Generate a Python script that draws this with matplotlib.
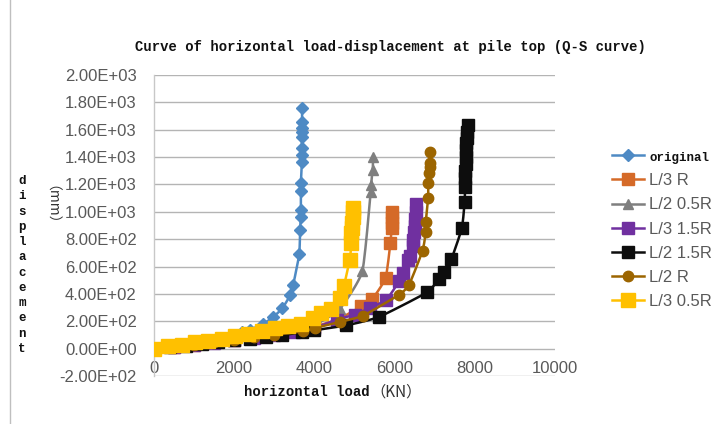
import numpy as np
import matplotlib
matplotlib.use("Agg")
import matplotlib.pyplot as plt
from matplotlib.font_manager import FontProperties

# ---------------- data ----------------
series_names = ["original", "L/3 R", "L/2 0.5R", "L/3 1.5R", "L/2 1.5R", "L/2 R", "L/3 0.5R"]

orig_x = [0, 330, 660, 1000, 1330, 1660, 2000, 2200, 2400, 2730, 2980, 3210, 3410, 3480, 3630, 3650, 3670, 3670, 3670, 3670, 3700, 3700, 3700, 3690, 3700, 3700, 3700, 3700]
orig_y = [0, 15, 30, 45, 62, 80, 100, 118, 138, 180, 231, 295, 394, 467, 690, 865, 965, 1015, 1150, 1210, 1365, 1415, 1465, 1550, 1580, 1610, 1660, 1757]

l3r_x = [0, 500, 1000, 1500, 2000, 2500, 3000, 3500, 4000, 4600, 5180, 5450, 5780, 5900, 5930, 5930, 5930, 5930]
l3r_y = [0, 14, 30, 47, 66, 85, 106, 130, 160, 215, 309, 363, 516, 771, 880, 920, 960, 1000]

l205r_x = [0, 500, 1000, 1500, 2000, 2500, 3000, 3500, 4000, 4640, 5200, 5410, 5420, 5460, 5470]
l205r_y = [0, 15, 32, 50, 70, 90, 110, 135, 170, 290, 564, 1148, 1197, 1307, 1404]

l315r_x = [0, 500, 1000, 1500, 2000, 2500, 3000, 3500, 4000, 4560, 5010, 5390, 5800, 6115, 6215, 6340, 6380, 6460, 6465, 6500, 6510, 6520, 6530, 6530]
l315r_y = [0, 13, 28, 44, 62, 80, 100, 122, 150, 212, 248, 297, 358, 491, 553, 650, 674, 747, 796, 850, 900, 950, 1000, 1060]

l215r_x = [0, 400, 800, 1200, 1600, 2000, 2400, 2800, 3200, 3700, 4000, 4800, 5610, 6810, 7110, 7230, 7420, 7680, 7750, 7760, 7765, 7770, 7775, 7780, 7785, 7790, 7800, 7810, 7830]
l215r_y = [0, 10, 22, 34, 47, 60, 72, 85, 98, 120, 134, 170, 231, 411, 511, 560, 655, 881, 1075, 1185, 1250, 1300, 1350, 1400, 1450, 1500, 1540, 1586, 1635]

l2r_x = [0, 500, 1000, 1500, 2000, 2500, 3000, 3730, 4020, 4640, 5220, 6115, 6365, 6700, 6780, 6780, 6840, 6840, 6860, 6880, 6880, 6880]
l2r_y = [0, 13, 28, 45, 63, 82, 100, 126, 151, 195, 241, 394, 467, 715, 849, 922, 1100, 1214, 1282, 1331, 1355, 1440]

l305r_x = [0, 368, 700, 1032, 1364, 1696, 2027, 2359, 2690, 3022, 3353, 3686, 3975, 4183, 4432, 4640, 4740, 4888, 4930, 4930, 4940, 4950, 4960, 4970, 4970]
l305r_y = [0, 17, 29, 46, 58, 73, 90, 109, 126, 151, 163, 182, 224, 260, 290, 370, 455, 650, 771, 844, 880, 920, 960, 1000, 1030]

xs = [orig_x, l3r_x, l205r_x, l315r_x, l215r_x, l2r_x, l305r_x]
ys = [orig_y, l3r_y, l205r_y, l315r_y, l215r_y, l2r_y, l305r_y]

colors = ["#4E8AC4", "#D56A28", "#7F7F7F", "#7030A0", "#0D0D0D", "#9C6500", "#FFC000"]
markers = ["D", "s", "^", "s", "s", "o", "s"]
msizes = [6, 8, 7.5, 8, 8, 7.5, 9.5]

y_ticks = np.arange(-200, 2001, 200)
x_ticks = [0, 2000, 4000, 6000, 8000, 10000]


def smooth(x, y, n=12):
    x = np.asarray(x, float)
    y = np.asarray(y, float)
    if len(x) < 3:
        return x, y
    px = np.concatenate([[x[0]], x, [x[-1]]])
    py = np.concatenate([[y[0]], y, [y[-1]]])
    ox, oy = [], []
    t = np.linspace(0, 1, n, endpoint=False)
    h00 = 2 * t**3 - 3 * t**2 + 1
    h10 = t**3 - 2 * t**2 + t
    h01 = -2 * t**3 + 3 * t**2
    h11 = t**3 - t**2
    for i in range(1, len(px) - 2):
        for arr_o, a in ((ox, px), (oy, py)):
            m1 = 0.25 * (a[i + 1] - a[i - 1])
            m2 = 0.25 * (a[i + 2] - a[i])
            arr_o.extend(h00 * a[i] + h10 * m1 + h01 * a[i + 1] + h11 * m2)
    ox.append(x[-1])
    oy.append(y[-1])
    return np.array(ox), np.array(oy)


fig = plt.figure(figsize=(7.14, 4.24), dpi=100)
ax = fig.add_axes([153.5 / 714, 1 - 376 / 424, (555 - 153.5) / 714, (376 - 75) / 424])

handles = []
for name, x, y, c, m, ms in zip(series_names, xs, ys, colors, markers, msizes):
    sx, sy = smooth(x, y)
    ax.plot(sx, sy, color=c, lw=1.8, zorder=3, solid_capstyle="round")
    ax.plot(x, y, linestyle="none", marker=m, ms=ms, color=c, mec=c, zorder=3)
    h, = ax.plot([], [], color=c, lw=1.8, marker=m, ms=ms, mec=c, label=name)
    handles.append(h)

ax.set_xlim(0, 10000)
ax.set_ylim(-200, 2000)
ax.set_yticks(y_ticks)
ax.set_yticklabels(["%.2E" % v for v in y_ticks])
ax.set_xticks(x_ticks)
ax.set_xticklabels([str(v) for v in x_ticks])
ax.yaxis.grid(True, color="#B4B4B4", lw=1.0)
ax.set_axisbelow(True)
for s in ["top", "right", "bottom"]:
    ax.spines[s].set_visible(False)
ax.spines["left"].set_color("#C8C8C8")
ax.spines["left"].set_linewidth(1.0)
ax.spines["bottom"].set_position(("data", 0))
ax.tick_params(axis="both", length=0, labelsize=12, labelcolor="#595959")
ax.tick_params(axis="x", pad=9)
ax.tick_params(axis="y", pad=12)
for lab in ax.get_xticklabels() + ax.get_yticklabels():
    lab.set_fontfamily("Liberation Sans")

mono = FontProperties(family="Liberation Mono", weight="bold", size=10)
fig.text(390 / 714, 1 - 47 / 424, "Curve of horizontal load-displacement at pile top (Q-S curve)",
         fontproperties=mono, ha="center", va="center", color="#111111")

# y label stacked
fig.text(22 / 714, 1 - 265 / 424, "\n".join("displacement"),
         fontproperties=FontProperties(family="Liberation Mono", weight="bold", size=9),
         ha="center", va="center", linespacing=1.36, color="#111111")
fig.text(44 / 714, 1 - 212 / 424, "（mm）", rotation=-90,
         family=["Noto Sans CJK SC", "DejaVu Sans"], fontsize=10, ha="center", va="center", color="#333333")

# x label
fig.text(370 / 714, 1 - 392 / 424, "horizontal load", fontproperties=mono, ha="right", va="center",
         color="#111111")
fig.text(370 / 714, 1 - 392 / 424, "（KN）", family=["Noto Sans CJK SC", "DejaVu Sans"], fontsize=11,
         ha="left", va="center", color="#333333")

leg = ax.legend(handles=handles, loc="upper left", bbox_to_anchor=(604 / 714, 1 - 141 / 424),
                bbox_transform=fig.transFigure, frameon=False, fontsize=12,
                handlelength=1.9, handletextpad=0.3, labelspacing=0.55, borderpad=0)
for i, t in enumerate(leg.get_texts()):
    t.set_color("#595959")
    t.set_fontfamily("Liberation Sans")
leg.get_texts()[0].set_fontproperties(FontProperties(family="Liberation Mono", weight="bold", size=9))
leg.get_texts()[0].set_color("#111111")

# chart border
fig.add_artist(plt.Rectangle((9.5 / 714, -0.01), 1.0, 1.02, transform=fig.transFigure,
                             fill=False, edgecolor="#BFBFBF", lw=1))

fig.savefig("out.png", dpi=100)
